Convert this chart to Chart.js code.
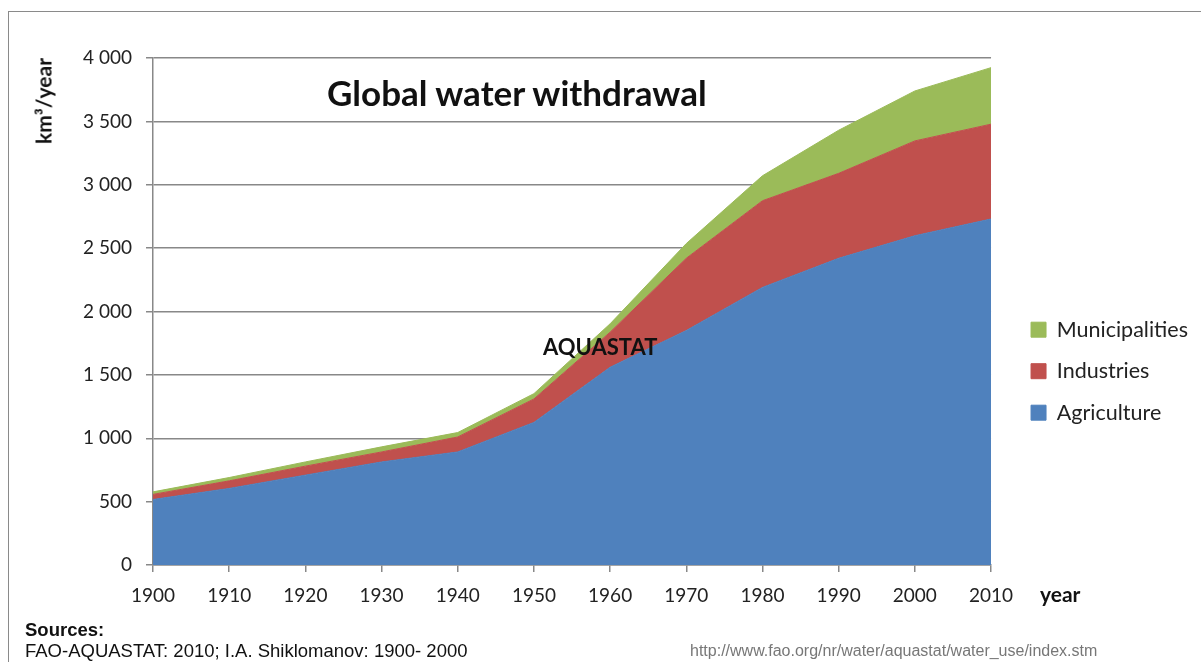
<!DOCTYPE html>
<html>
<head>
<meta charset="utf-8">
<script src="https://cdn.jsdelivr.net/npm/chart.js@4/dist/chart.umd.min.js"></script>
<style>
  body { margin: 0; background: #fff; }
  #wrap { position: relative; width: 1201px; height: 662px; overflow: hidden; }
  #frame { position: absolute; left: 8px; top: 11px; right: -2px; bottom: -2px; border: 1px solid #8a8a8a; }
  #graph { position: absolute; left: 0; top: 0; }
  .txt { position: absolute; white-space: nowrap; color: #111; }
  #title { left: 327px; top: 71px; font: bold 35px Lato, sans-serif; }
  #aqua { left: 543px; top: 333px; font: bold 22px Lato, sans-serif; }
  #ytitle { left: 43px; top: 101px; font: bold 21px Lato, sans-serif; transform: translate(-50%, -50%) rotate(-90deg); }
  #xtitle { left: 1040px; top: 581px; font: bold 21px Lato, sans-serif; }
  #src1 { left: 25px; top: 619px; font: bold 18.5px "Liberation Sans", Arial, sans-serif; }
  #src2 { left: 25px; top: 640px; font: 18.5px "Liberation Sans", Arial, sans-serif; }
  #url { left: 690px; top: 642px; font: 16px "Liberation Sans", Arial, sans-serif; color: #777; }
</style>
</head>
<body>
<div id="wrap">
  <div id="frame"></div>
  <canvas id="graph" width="1201" height="662"></canvas>
  <div class="txt" id="title">Global water withdrawal</div>
  <div class="txt" id="aqua">AQUASTAT</div>
  <div class="txt" id="ytitle">km³/year</div>
  <div class="txt" id="xtitle">year</div>
  <div class="txt" id="src1">Sources:</div>
  <div class="txt" id="src2">FAO-AQUASTAT: 2010; I.A. Shiklomanov: 1900- 2000</div>
  <div class="txt" id="url">http://www.fao.org/nr/water/aquastat/water_use/index.stm</div>
</div>
<script>
var years = ["1900", "1910", "1920", "1930", "1940", "1950", "1960", "1970", "1980", "1990", "2000", "2010"];
var agriculture = [517, 604, 709, 813, 892, 1125, 1560, 1850, 2190, 2420, 2598, 2730];
var industries = [40, 60, 71, 79, 118, 185, 277, 570, 684, 670, 748, 748];
var municipalities = [20, 26, 33, 40, 35, 42, 66, 116, 197, 340, 394, 446];
var yTicks = [0, 500, 1000, 1500, 2000, 2500, 3000, 3500, 4000];

// nudge the legend block right, as in the original
var legendShift = {
  id: "legendShift",
  afterLayout: function (chart) {
    var l = chart.legend;
    l.left += 20; l.right += 20;
  }
};

function area(label, data, color, fill) {
  return {
    label: label,
    data: data,
    backgroundColor: color,
    borderColor: color,
    borderWidth: 1,
    pointRadius: 0,
    tension: 0,
    fill: fill
  };
}

var graph = new Chart("graph", {
  type: "line",
  data: {
    labels: years,
    datasets: [
      area("Agriculture", agriculture, "#4f81bd", "origin"),
      area("Industries", industries, "#c0504d", "-1"),
      area("Municipalities", municipalities, "#9bbb59", "-1")
    ]
  },
  options: {
    responsive: false,
    animation: false,
    layout: { padding: { top: 58, right: 23, bottom: 0, left: 0 } },
    plugins: {
      tooltip: { enabled: false },
      legend: {
        position: "right",
        reverse: true,
        title: { display: true, text: "", padding: { top: 8, bottom: 0 } },
        labels: {
          boxWidth: 15, boxHeight: 15, padding: 20, color: "#222",
          font: { family: "Lato", size: 21.5 }
        }
      }
    },
    scales: {
      x: {
        offset: false,
        border: { color: "#888", width: 1.5 },
        grid: { drawOnChartArea: false, tickLength: 7, color: "#888", lineWidth: 1.5 },
        ticks: { color: "#222", padding: 12, maxRotation: 0, font: { family: "Lato", size: 19 } },
        afterFit: function (s) { s.height = 97; }
      },
      y: {
        stacked: true,
        min: 0, max: 4000,
        afterBuildTicks: function (s) { s.ticks = yTicks.map(function (v) { return { value: v }; }); },
        border: { color: "#888", width: 1.5 },
        grid: { color: "#888", lineWidth: 1.5, tickLength: 7 },
        ticks: {
          color: "#222", padding: 14, font: { family: "Lato", size: 19 },
          callback: function (v) { return String(v).replace(/\B(?=(\d{3})+(?!\d))/g, " "); }
        },
        afterFit: function (s) { s.width = 153; }
      }
    }
  },
  plugins: [legendShift]
});
</script>
</body>
</html>
